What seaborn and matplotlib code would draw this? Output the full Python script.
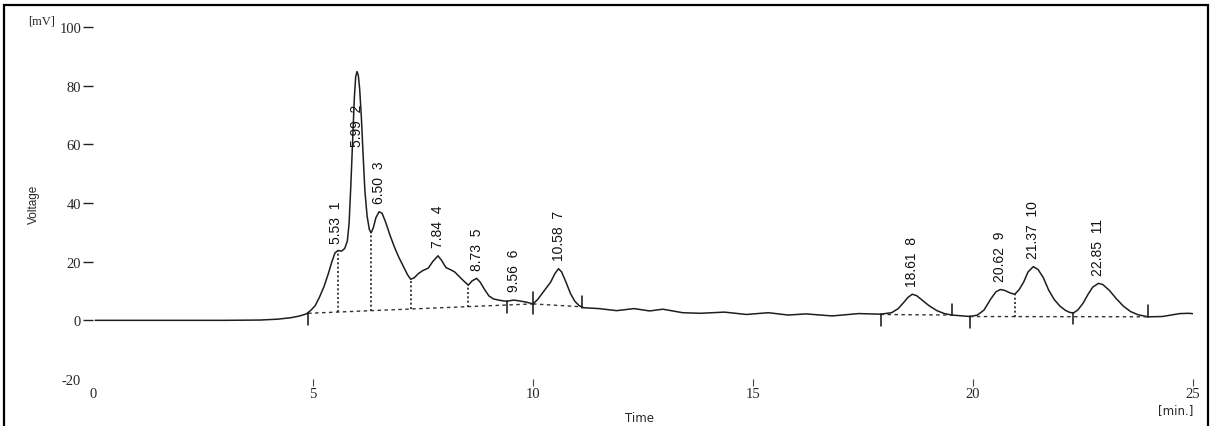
import numpy as np
import pandas as pd
import matplotlib
matplotlib.use("Agg")
import matplotlib.pyplot as plt
from matplotlib.patches import Rectangle
import seaborn as sns

# Detector trace: retention time [min] and signal [mV]
time_min = [
    0.05, 1.0, 2.0, 3.0, 3.8, 4.2, 4.5, 4.7, 4.85, 4.95, 5.05, 5.15, 5.25, 5.35,
    5.43, 5.50, 5.57, 5.65, 5.72, 5.78, 5.82, 5.86, 5.90, 5.94, 5.97, 6.00, 6.03,
    6.06, 6.10, 6.14, 6.18, 6.23, 6.28, 6.32, 6.37, 6.43, 6.50, 6.57, 6.65, 6.75,
    6.85, 6.95, 7.05, 7.15, 7.22, 7.30, 7.40, 7.50, 7.62, 7.72, 7.84, 7.92, 8.02,
    8.12, 8.22, 8.32, 8.42, 8.53, 8.62, 8.72, 8.80, 8.90, 9.00, 9.10, 9.25, 9.40,
    9.56, 9.70, 9.85, 10.00, 10.10, 10.20, 10.30, 10.40, 10.50, 10.58, 10.65,
    10.75, 10.85, 10.95, 11.05, 11.15, 11.50, 11.90, 12.30, 12.65, 12.95, 13.40,
    13.80, 14.35, 14.85, 15.35, 15.80, 16.20, 16.80, 17.40, 17.90, 18.15, 18.30,
    18.42, 18.52, 18.62, 18.72, 18.85, 19.00, 19.18, 19.35, 19.52, 19.75, 19.93,
    20.10, 20.25, 20.40, 20.52, 20.62, 20.72, 20.85, 20.95, 21.05, 21.15, 21.25,
    21.37, 21.48, 21.60, 21.72, 21.85, 21.98, 22.10, 22.20, 22.28, 22.38, 22.50,
    22.62, 22.72, 22.85, 22.95, 23.10, 23.25, 23.42, 23.58, 23.75, 23.98, 24.30,
    24.70, 24.90, 25.05,
]
voltage_mv = [
    0.0, 0.0, 0.0, 0.0, 0.1, 0.4, 0.9, 1.5, 2.2, 3.4, 5.0, 8.0, 11.5, 16.0,
    20.0, 23.0, 23.8, 23.6, 24.5, 27.0, 33.0, 46.0, 61.0, 76.0, 83.0, 84.8, 83.5,
    79.0, 69.0, 56.0, 44.0, 35.5, 31.0, 29.8, 31.5, 35.0, 37.0, 36.5, 33.5, 29.0,
    25.0, 21.5, 18.5, 15.5, 14.0, 14.5, 16.0, 17.0, 17.8, 20.0, 22.0, 20.5, 18.0,
    17.3, 16.5, 15.0, 13.5, 12.0, 13.5, 14.3, 13.0, 10.5, 8.3, 7.3, 6.8, 6.5,
    6.9, 6.6, 6.2, 5.6, 7.0, 9.0, 11.0, 13.0, 16.0, 17.6, 16.5,
    13.0, 9.2, 6.5, 5.0, 4.3, 4.0, 3.3, 4.0, 3.2, 3.8, 2.6,
    2.4, 2.8, 2.0, 2.6, 1.8, 2.2, 1.5, 2.3, 2.1, 2.6, 4.0,
    6.0, 7.8, 8.9, 8.4, 6.8, 5.0, 3.3, 2.3, 1.8, 1.5, 1.3,
    1.8, 3.5, 7.2, 9.7, 10.5, 10.2, 9.3, 8.9, 10.5, 13.0, 16.5,
    18.3, 17.3, 14.5, 10.3, 7.0, 4.8, 3.4, 2.7, 2.5, 3.5, 5.8,
    9.0, 11.3, 12.6, 12.2, 10.2, 7.5, 4.8, 3.0, 1.9, 1.2, 1.3,
    2.3, 2.4, 2.2,
]

# Integrated peaks: retention time and peak number
peak_rt = [5.53, 5.99, 6.50, 7.84, 8.73, 9.56, 10.58, 18.61, 20.62, 21.37, 22.85]
peak_no = [1, 2, 3, 4, 5, 6, 7, 8, 9, 10, 11]

# Integration baselines (start / end of each segment)
base_start_t = [4.89, 10.00, 17.90, 19.93]
base_start_v = [2.4, 5.6, 2.0, 1.3]
base_end_t = [10.00, 11.12, 19.52, 23.98]
base_end_v = [5.6, 4.6, 1.8, 1.2]

# Perpendicular drops between unresolved peaks
drop_t = [5.57, 6.32, 7.22, 8.53, 20.95]

# Integration start / stop event marks
event_t = [4.89, 9.40, 10.00, 11.12, 17.90, 19.52, 19.93, 22.28, 23.98]
event_lo = [-1.7, 2.6, 2.0, 4.3, -1.9, 1.8, -2.7, -1.4, 1.1]
event_hi = [2.6, 6.6, 9.5, 8.3, 2.0, 5.5, 1.5, 2.6, 5.1]

x_ticks = [0, 5, 10, 15, 20, 25]
y_ticks = [-20, 0, 20, 40, 60, 80, 100]

sns.set_theme(style="white")
plt.rcParams["font.family"] = ["Liberation Sans", "DejaVu Sans"]
plt.rcParams["axes.unicode_minus"] = False

fig = plt.figure(figsize=(12.12, 4.27), dpi=100)
ax = fig.add_axes([93 / 1212, 1 - 380 / 427, 1100 / 1212, 352 / 427])

trace = pd.DataFrame({"time": time_min, "voltage": voltage_mv})
sns.lineplot(data=trace, x="time", y="voltage", ax=ax, color="#1e1e1e",
             linewidth=1.1, estimator=None, sort=False)

# baselines
for t0, v0, t1, v1 in zip(base_start_t, base_start_v, base_end_t, base_end_v):
    ax.plot([t0, t1], [v0, v1], color="#333333", linewidth=1.0,
            linestyle=(0, (2.5, 2.5)))


def baseline_at(t):
    for t0, v0, t1, v1 in zip(base_start_t, base_start_v, base_end_t, base_end_v):
        if t0 <= t <= t1:
            return v0 + (v1 - v0) * (t - t0) / (t1 - t0)
    return 0.0


# drop lines from the trace down to the baseline
drop_top = np.interp(drop_t, time_min, voltage_mv)
for t, top in zip(drop_t, drop_top):
    ax.plot([t, t], [baseline_at(t), top], color="#222222", linewidth=1.2,
            linestyle=(0, (1.2, 1.4)))

# event marks
for t, lo, hi in zip(event_t, event_lo, event_hi):
    ax.plot([t, t], [lo, hi], color="#111111", linewidth=1.1)

# peak annotations
peak_h = np.interp(peak_rt, time_min, voltage_mv)
label_bottom = np.minimum(peak_h + 3.0, 59.5)
for rt, n, yb in zip(peak_rt, peak_no, label_bottom):
    ax.text(rt, yb, f"{rt:.2f}  {n}", rotation=90, ha="center", va="bottom",
            fontsize=10, family="Liberation Sans", color="#111111")

ax.set_xlim(0, 25)
ax.set_ylim(-20, 100)
ax.set_xticks(x_ticks)
ax.set_yticks(y_ticks)
for s in ax.spines.values():
    s.set_visible(False)
ax.tick_params(axis="y", left=True, direction="out", length=7.5, width=1.0,
               pad=1, labelsize=10.5, color="#222222")
ax.tick_params(axis="x", bottom=True, direction="out", length=5, width=0.8,
               pad=1, labelsize=10.5, color="#444444")
for lbl in ax.get_xticklabels() + ax.get_yticklabels():
    lbl.set_family("Liberation Serif")
ax.yaxis.get_major_ticks()[0].tick1line.set_visible(False)
ax.xaxis.get_major_ticks()[0].tick1line.set_visible(False)

ax.set_ylabel("Voltage", fontsize=8.5, family="Liberation Sans")
ax.yaxis.set_label_coords(-0.048, 0.5)
ax.set_xlabel("Time", fontsize=8.5, family="DejaVu Sans")
ax.xaxis.set_label_coords(0.497, -0.09)
ax.text(1.0, -0.068, "[min.]", transform=ax.transAxes, ha="right", va="top",
        fontsize=8.5, family="DejaVu Sans")
fig.text(42 / 1212, 1 - 21 / 427, "[mV]", ha="center", va="center",
         fontsize=9, family="Liberation Serif")

# outer frame
fig.patches.append(Rectangle((4 / 1212, -0.05), 1204 / 1212, 1.05 - 6 / 427,
                             transform=fig.transFigure, fill=False,
                             edgecolor="black", linewidth=1.6))

fig.savefig("out.png", dpi=100)
